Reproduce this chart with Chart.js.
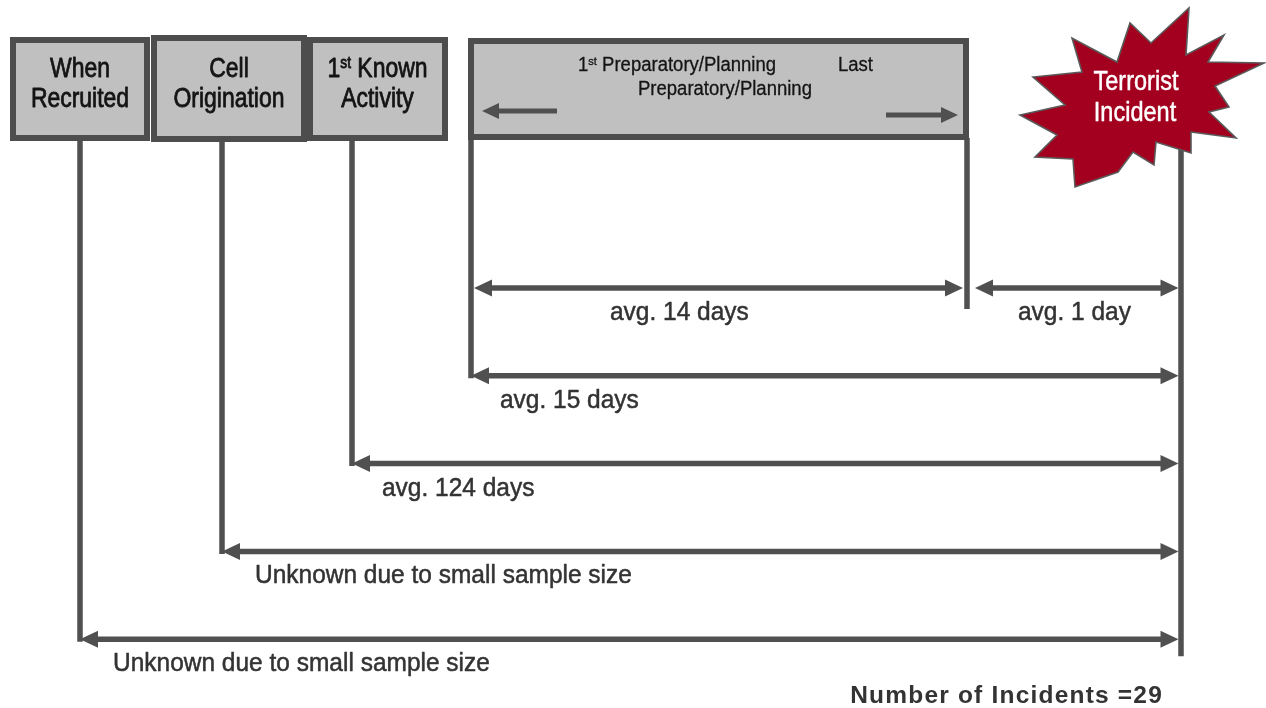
<!DOCTYPE html>
<html>
<head>
<meta charset="utf-8">
<script src="https://cdn.jsdelivr.net/npm/chart.js@4.4.1/dist/chart.umd.min.js"></script>
<style>
  html, body { margin: 0; padding: 0; background: #ffffff; overflow: hidden; }
  #wrap { width: 1266px; height: 708px; position: relative; }
</style>
</head>
<body>
<div id="wrap"><canvas id="timeline"></canvas></div>
<script>
// ---- Timeline data -------------------------------------------------------
const milestones = ['When Recruited', 'Cell Origination', '1st Known Activity',
                    '1st Preparatory/Planning', 'Last Preparatory/Planning', 'Terrorist Incident'];
// schematic position of each milestone along the timeline axis
const timelinePos = [80, 222, 352, 471, 967, 1181];
// measured spans: from milestone -> to milestone, bracket row, average length in days
const spanFrom    = [3, 4, 3, 2, 1, 0];
const spanTo      = [4, 5, 5, 5, 5, 5];
const spanRow     = [0, 0, 1, 2, 3, 4];
const spanAvgDays = [14, 1, 15, 124, null, null];
const incidentCount = 29;

// ---- Layout & style ------------------------------------------------------
const W = 1266, H = 708;
const ROW0 = 288, ROW_GAP = 87.8;
const LINE = '#505050';
const LINE_W = 5.5;
const FONT = "'Liberation Sans', Arial, Helvetica, sans-serif";
const rowY = r => ROW0 + r * ROW_GAP;

const spanLabel = d => d == null ? 'Unknown due to small sample size'
                                 : `avg. ${d} day${d === 1 ? '' : 's'}`;
// label offset from the left tip of each bracket
const labelDx = [136, 43, 29, 30, 33, 33];

const startTip = i => timelinePos[spanFrom[i]] + (spanFrom[i] === 4 ? 8 : (spanRow[i] === 0 ? 3 : 0));
const endTip   = i => timelinePos[spanTo[i]] - (spanTo[i] === 4 ? 4 : 2.5);

// drop lines from each milestone down to its lowest bracket
const dropTop    = [138, 138, 138, 138, 138, 120];
const dropBottom = [rowY(4) + 2.5, rowY(3) + 2.5, rowY(2) + 2.5, rowY(1) + 2.5, rowY(0) + 21, rowY(4) + 17];

const datasets = [];
timelinePos.forEach((x, i) => {
  datasets.push({
    label: milestones[i],
    data: [{ x: x, y: dropTop[i] }, { x: x, y: dropBottom[i] }],
    borderColor: LINE, borderWidth: LINE_W, pointRadius: 0, borderCapStyle: 'butt'
  });
});
spanFrom.forEach((f, i) => {
  const y = rowY(spanRow[i]);
  datasets.push({
    label: spanLabel(spanAvgDays[i]),
    data: [{ x: startTip(i) + 10, y: y }, { x: endTip(i) - 10, y: y }],
    borderColor: LINE, borderWidth: LINE_W, pointRadius: 0, borderCapStyle: 'butt'
  });
});

// ---- Drawing helpers -------------------------------------------------------
// text with optional ordinal superscript ("1st"), horizontal condensing and weight boost
function drawText(ctx, text, x, y, o) {
  const size = o.size, weight = o.bold ? 'bold ' : '';
  const sx = o.sx || 1;
  const segs = [];
  const m = text.match(/^(\d+)(st|nd|rd|th)(.*)$/);
  if (m) {
    segs.push({ t: m[1], s: size, dy: 0 });
    segs.push({ t: m[2], s: size * 0.6, dy: -size * 0.33 });
    segs.push({ t: m[3], s: size, dy: 0 });
  } else {
    segs.push({ t: text, s: size, dy: 0 });
  }
  ctx.save();
  ctx.letterSpacing = (o.spacing || 0) + 'px';
  let total = 0;
  segs.forEach(g => { ctx.font = weight + g.s + 'px ' + FONT; g.w = ctx.measureText(g.t).width; total += g.w; });
  let x0 = x;
  if (o.align === 'center') x0 = x - total * sx / 2;
  else if (o.align === 'right') x0 = x - total * sx;
  ctx.translate(x0, y);
  ctx.scale(sx, 1);
  ctx.fillStyle = o.color;
  ctx.strokeStyle = o.color;
  ctx.lineWidth = o.stroke || 0;
  ctx.lineJoin = 'round';
  ctx.textBaseline = 'alphabetic';
  ctx.textAlign = 'left';
  let cx = 0;
  segs.forEach(g => {
    ctx.font = weight + g.s + 'px ' + FONT;
    ctx.fillText(g.t, cx, g.dy);
    if (o.stroke) ctx.strokeText(g.t, cx, g.dy);
    cx += g.w;
  });
  ctx.restore();
}

function arrowHead(ctx, tipX, tipY, dir, len, half) {
  ctx.beginPath();
  ctx.moveTo(tipX, tipY);
  ctx.lineTo(tipX - dir * len, tipY - half);
  ctx.lineTo(tipX - dir * len, tipY + half);
  ctx.closePath();
  ctx.fill();
}

// starburst outline around the incident marker (offsets from its centre)
const burst = [[48,-90],[45,-43],[83,-63],[67,-36],[123,-35],[74,-12],[88,9],[68,14],[95,40],
               [50,34],[50,55],[15,44],[13,67],[-8,54],[-23,74],[-66,89],[-68,61],[-106,59],
               [-84,37],[-121,17],[-76,7],[-108,-21],[-59,-26],[-69,-60],[-24,-36],[-11,-75],[10,-55]];

const diagramPlugin = {
  id: 'diagram',
  afterDatasetsDraw(chart) {
    const ctx = chart.ctx;
    const sx = chart.scales.x, sy = chart.scales.y;
    const X = v => sx.getPixelForValue(v), Y = v => sy.getPixelForValue(v);

    // arrowheads of the brackets
    ctx.save();
    ctx.fillStyle = LINE;
    spanFrom.forEach((f, i) => {
      const y = Y(rowY(spanRow[i]));
      arrowHead(ctx, X(startTip(i)), y, -1, 18, 8.5);
      arrowHead(ctx, X(endTip(i)), y, 1, 18, 8.5);
    });
    ctx.restore();

    // milestone boxes
    const boxes = [
      { x0: 13,  x1: 147, y0: 40, y1: 138, lines: ['When', 'Recruited'] },
      { x0: 154, x1: 304, y0: 38, y1: 139, lines: ['Cell', 'Origination'] },
      { x0: 310, x1: 445, y0: 40, y1: 138, lines: ['1st Known', 'Activity'] },
      { x0: 471, x1: 966, y0: 41, y1: 137, lines: [] }
    ];
    boxes.forEach(b => {
      ctx.save();
      ctx.fillStyle = '#c0c0c0';
      ctx.strokeStyle = '#4d4d4d';
      ctx.lineWidth = 6;
      ctx.fillRect(X(b.x0), Y(b.y0), X(b.x1) - X(b.x0), Y(b.y1) - Y(b.y0));
      ctx.strokeRect(X(b.x0), Y(b.y0), X(b.x1) - X(b.x0), Y(b.y1) - Y(b.y0));
      ctx.restore();
      const cx = X((b.x0 + b.x1) / 2);
      b.lines.forEach((t, k) => drawText(ctx, t, cx, Y(77 + k * 30),
        { size: 27, sx: 0.85, color: '#141414', align: 'center', stroke: 0.8 }));
    });

    // planning phase box: labels and direction arrows
    const pOpt = { size: 19.6, sx: 0.945, color: '#141414', align: 'left', stroke: 0.3 };
    drawText(ctx, '1st Preparatory/Planning', X(578), Y(71), pOpt);
    drawText(ctx, 'Last', X(838), Y(71), pOpt);
    drawText(ctx, 'Preparatory/Planning', X(638), Y(95), pOpt);
    ctx.save();
    ctx.fillStyle = LINE;
    ctx.fillRect(X(495), Y(108.5), X(557) - X(495), 5);
    arrowHead(ctx, X(482), Y(111), -1, 17, 8);
    ctx.fillRect(X(886), Y(112.5), X(942) - X(886), 5);
    arrowHead(ctx, X(958), Y(115), 1, 17, 8);
    ctx.restore();

    // incident starburst
    const bx = X(timelinePos[5] - 40), by = Y(98);
    ctx.save();
    ctx.beginPath();
    burst.forEach(([dx, dy], k) => k ? ctx.lineTo(bx + dx, by + dy) : ctx.moveTo(bx + dx, by + dy));
    ctx.closePath();
    ctx.fillStyle = '#a3001f';
    ctx.fill();
    ctx.strokeStyle = '#5a5a5a';
    ctx.lineWidth = 1.6;
    ctx.lineJoin = 'miter';
    ctx.stroke();
    ctx.restore();
    const tOpt = { size: 28, sx: 0.84, color: '#ffffff', align: 'center', stroke: 0.5 };
    drawText(ctx, 'Terrorist', bx - 5, by - 8, tOpt);
    drawText(ctx, 'Incident', bx - 6, by + 23, tOpt);

    // bracket labels
    spanFrom.forEach((f, i) => {
      drawText(ctx, spanLabel(spanAvgDays[i]), X(startTip(i) + labelDx[i]), Y(rowY(spanRow[i]) + 32),
               { size: 25.5, sx: 0.96, color: '#333', align: 'left', stroke: 0.5 });
    });

    // sample size note
    drawText(ctx, 'Number of Incidents =' + incidentCount, X(1163), Y(703),
             { size: 24.5, bold: true, color: '#333', align: 'right', spacing: 1.2 });
  }
};

new Chart(document.getElementById('timeline'), {
  type: 'line',
  data: { datasets: datasets },
  options: {
    responsive: true,
    maintainAspectRatio: false,
    animation: false,
    devicePixelRatio: 1,
    layout: { padding: 0 },
    scales: {
      x: { type: 'linear', min: 0, max: W, display: false },
      y: { type: 'linear', min: 0, max: H, reverse: true, display: false }
    },
    plugins: { legend: { display: false }, tooltip: { enabled: false } },
    elements: { line: { tension: 0 } }
  },
  plugins: [diagramPlugin]
});
</script>
</body>
</html>
